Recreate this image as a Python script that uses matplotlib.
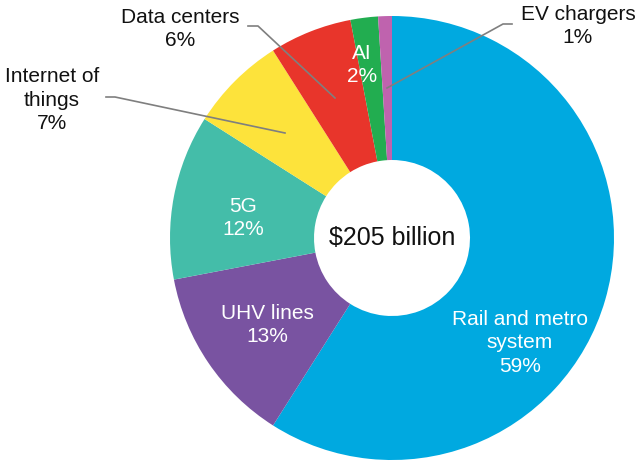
import matplotlib
matplotlib.use("Agg")
import matplotlib.pyplot as plt

# ── data ────────────────────────────────────────────────────────────────
LABELS = ["Rail and metro\nsystem", "UHV lines", "5G", "Internet of\nthings",
          "Data centers", "AI", "EV chargers"]
SHARES = [59, 13, 12, 7, 6, 2, 1]
TOTAL = "$205 billion"

COLORS = ["#00A9E0", "#7953A1", "#44BDA9", "#FDE33B", "#E8352B", "#22AD50", "#BF63AE"]

plt.rcParams["font.family"] = ["Liberation Sans", "DejaVu Sans"]

fig = plt.figure(figsize=(6.4, 4.67), dpi=100)
ax = fig.add_axes([0, 0, 1, 1])

# pixel-space layout (y grows downwards, so the pie direction is mirrored)
CX, CY, R, HOLE = 392, 238, 222, 78
ax.pie(SHARES, colors=COLORS, startangle=-90, counterclock=True,
       center=(CX, CY), radius=R,
       wedgeprops=dict(width=R - HOLE, linewidth=0))
ax.set_xlim(0, 640)
ax.set_ylim(467, 0)
ax.set_aspect("equal")
ax.axis("off")

ax.text(CX, CY, TOTAL, ha="center", va="center", fontsize=18, color="#111111")

# labels inside the ring
inside = {0: (520, 343), 1: (267, 325), 2: (243, 218), 5: (362, 65)}
for i, (x, y) in inside.items():
    ax.text(x, y, f"{LABELS[i]}\n{SHARES[i]}%", ha="center", va="center",
            color="white", fontsize=15, linespacing=1.3)

# labels outside with leader lines
outside = {
    3: ((52, 100), [(106, 97), (115, 97), (285, 133)]),
    4: ((180, 29), [(248, 26), (258, 26), (335, 98)]),
    6: ((578, 26), [(512, 24), (503, 24), (387, 88)]),
}
for i, ((x, y), pts) in outside.items():
    ax.text(x, y, f"{LABELS[i]}\n{SHARES[i]}%", ha="center", va="center",
            color="#111111", fontsize=15, linespacing=1.3)
    xs, ys = zip(*pts)
    ax.plot(xs, ys, color="#7f7f7f", lw=1.2)

fig.savefig("out.png", dpi=100, facecolor="white")
